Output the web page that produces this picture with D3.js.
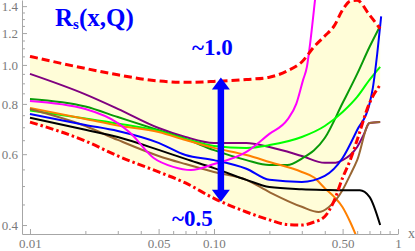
<!DOCTYPE html>
<html><head><meta charset="utf-8">
<script src="https://cdn.jsdelivr.net/npm/d3@7"></script>
<style>html,body{margin:0;padding:0;background:#fff;overflow:hidden}</style>
</head><body><svg id="c" width="415" height="251"></svg>
<script>
// ---- tick definitions ----
const xTickMajor = [0.01, 0.05, 0.1, 0.5, 1];
const xTickLabels = ["0.01", "0.05", "0.10", "0.50", "1"];
const xTickMinor = [0.02,0.03,0.04,0.06,0.07,0.08,0.09,0.2,0.3,0.4,0.6,0.7,0.8,0.9];
const yTickMajor = [0.4, 0.6, 0.8, 1.0, 1.2, 1.4];
const yTickLabels = ["0.4", "0.6", "0.8", "1.0", "1.2", "1.4"];
const yTickMinor = [0.45,0.5,0.55,0.65,0.7,0.75,0.85,0.9,0.95,1.05,1.1,1.15,1.25,1.3,1.35];

// ---- uncertainty band ----
const bandX = [0.01,0.02,0.03,0.05,0.07,0.1,0.15,0.2,0.25,0.3,0.35,0.4,0.45,0.5,0.55,0.6,0.7,0.8];
const bandUpper = [1.05,0.98,0.945,0.912,0.905,0.91,0.92,0.932,0.966,1.017,1.11,1.18,1.25,1.37,1.44,1.447,1.331,1.23];
const bandLower = [0.721,0.647,0.594,0.542,0.509,0.466,0.431,0.412,0.401,0.40,0.407,0.42,0.46,0.524,0.58,0.651,0.804,0.892];

// ---- curves: [x, R_s] ----
const purpleData = [[0.01,0.95],[0.02,0.845],[0.03,0.778],[0.05,0.697],[0.07,0.662],[0.1,0.64],[0.15,0.64],[0.2,0.625],[0.3,0.594],[0.4,0.571],[0.45,0.571],[0.5,0.58],[0.55,0.597],[0.6,0.625],[0.65,0.67],[0.7,0.717],[0.8,0.721]];
const darkGreenData = [[0.01,0.823],[0.02,0.788],[0.03,0.742],[0.05,0.688],[0.07,0.655],[0.1,0.614],[0.15,0.58],[0.2,0.564],[0.25,0.564],[0.3,0.585],[0.4,0.658],[0.5,0.804],[0.6,0.95],[0.7,1.108],[0.8,1.25]];
const limeData = [[0.01,0.77],[0.02,0.736],[0.03,0.715],[0.05,0.685],[0.07,0.655],[0.1,0.629],[0.15,0.622],[0.2,0.632],[0.3,0.662],[0.4,0.705],[0.5,0.764],[0.6,0.833],[0.7,0.918],[0.8,0.989]];
const orangeData = [[0.01,0.782],[0.02,0.734],[0.03,0.707],[0.05,0.681],[0.07,0.651],[0.1,0.622],[0.15,0.597],[0.2,0.574],[0.3,0.542],[0.35,0.525],[0.4,0.494],[0.45,0.47],[0.5,0.443],[0.55,0.407],[0.6,0.371]];
const magentaData = [[0.01,0.814],[0.02,0.777],[0.03,0.717],[0.035,0.678],[0.047,0.587],[0.06,0.558],[0.075,0.548],[0.1,0.567],[0.15,0.608],[0.2,0.674],[0.25,0.73],[0.28,0.80],[0.305,0.918],[0.32,0.99],[0.333,1.13],[0.354,1.45],[0.37,1.75]];
const blueData = [[0.01,0.755],[0.02,0.709],[0.03,0.685],[0.05,0.64],[0.07,0.597],[0.1,0.58],[0.15,0.552],[0.2,0.518],[0.3,0.512],[0.4,0.53],[0.5,0.587],[0.6,0.689],[0.7,0.8],[0.73,0.877],[0.77,1.06],[0.81,1.32]];
const blackData = [[0.01,0.739],[0.02,0.69],[0.03,0.662],[0.05,0.615],[0.07,0.584],[0.1,0.554],[0.15,0.518],[0.2,0.497],[0.3,0.491],[0.4,0.489],[0.5,0.488],[0.62,0.488],[0.7,0.47],[0.8,0.40]];
const brownData = [[0.01,0.777],[0.02,0.705],[0.03,0.651],[0.05,0.594],[0.07,0.567],[0.1,0.542],[0.15,0.518],[0.2,0.483],[0.3,0.444],[0.37,0.431],[0.42,0.443],[0.5,0.489],[0.55,0.533],[0.6,0.58],[0.7,0.717],[0.8,0.721]];

const series = [
  {data: purpleData, color: "#800080"},
  {data: darkGreenData, color: "#089a08"},
  {data: limeData, color: "#00ff00"},
  {data: orangeData, color: "#ff8000"},
  {data: brownData, color: "#996633"},
  {data: blackData, color: "#000000"},
  {data: blueData, color: "#0000ff"},
  {data: magentaData, color: "#ff00ff"}
];

// ---- annotations ----
const arrowX = 0.109, arrowTop = 0.93, arrowBottom = 0.457;
const titleMain = "R", titleSub = "s", titleRest = "(x,Q)";
const upperLabel = "~1.0", lowerLabel = "~0.5";

const svg = d3.select("#c");
const x = d3.scaleLog().domain([0.00905, 1]).range([22, 398]);
const y = d3.scaleLog().domain([0.38, 1.45]).range([234, 0]);

svg.append("defs").append("clipPath").attr("id","clip")
  .append("rect").attr("x",22).attr("y",0).attr("width",376).attr("height",234);

const axisColor = "#a6a6a6", labelColor = "#7a7a7a";
const font = "'Liberation Serif','Times New Roman',serif";

// axes
const gx = svg.append("g").attr("transform","translate(0,234)");
gx.call(d3.axisBottom(x).tickValues(xTickMajor).tickFormat((d,i)=>xTickLabels[i])
  .tickSizeInner(-5).tickSizeOuter(0).tickPadding(5));
const gxm = svg.append("g").attr("transform","translate(0,234)");
gxm.call(d3.axisBottom(x).tickValues(xTickMinor).tickFormat("").tickSizeInner(-3).tickSizeOuter(0));
gxm.select(".domain").remove();

const gy = svg.append("g").attr("transform","translate(22,0)");
gy.call(d3.axisLeft(y).tickValues(yTickMajor).tickFormat((d,i)=>yTickLabels[i])
  .tickSizeInner(-5).tickSizeOuter(0).tickPadding(4));
const gym = svg.append("g").attr("transform","translate(22,0)");
gym.call(d3.axisLeft(y).tickValues(yTickMinor).tickFormat("").tickSizeInner(-3).tickSizeOuter(0));
gym.select(".domain").remove();

svg.selectAll(".domain, .tick line").attr("stroke", axisColor).attr("stroke-width", 1);
svg.selectAll(".tick text").attr("fill", labelColor).style("font-family", font).style("font-size","13px");

svg.append("text").attr("x",408).attr("y",238).text("x")
  .attr("fill",labelColor).style("font-family",font).style("font-size","14px");

const plot = svg.append("g").attr("clip-path","url(#clip)");

// band fill
const bandPts = bandX.map((d,i)=>({x:d, lo:bandLower[i], hi:bandUpper[i]}));
plot.append("path").datum(bandPts)
  .attr("d", d3.area().x(d=>x(d.x)).y0(d=>y(d.lo)).y1(d=>y(d.hi)).curve(d3.curveMonotoneX))
  .attr("fill","#fffdd8");

// curves
const line = d3.line().x(d=>x(d[0])).y(d=>y(d[1])).curve(d3.curveMonotoneX);
series.forEach(s=>{
  plot.append("path").datum(s.data).attr("d", line)
    .attr("fill","none").attr("stroke", s.color).attr("stroke-width", 2)
    .attr("stroke-linejoin","round");
});

// band borders
const bl = d3.line().x(d=>x(d.x)).curve(d3.curveMonotoneX);
plot.append("path").datum(bandPts).attr("d", bl.y(d=>y(d.hi)))
  .attr("fill","none").attr("stroke","#ff0000").attr("stroke-width",3).attr("stroke-dasharray","8,4");
plot.append("path").datum(bandPts).attr("d", bl.y(d=>y(d.lo)))
  .attr("fill","none").attr("stroke","#ff0000").attr("stroke-width",3).attr("stroke-dasharray","8,3,2.5,3");

// arrow
const ax = x(arrowX), yt = y(arrowTop), yb = y(arrowBottom);
const arrowColor = "#0000ff";
svg.append("line").attr("x1",ax).attr("x2",ax).attr("y1",yt+10).attr("y2",yb-10)
  .attr("stroke",arrowColor).attr("stroke-width",6.5);
svg.append("path").attr("d",`M${ax},${yt}L${ax-9},${yt+12}L${ax+9},${yt+12}Z`).attr("fill",arrowColor);
svg.append("path").attr("d",`M${ax},${yb}L${ax-9},${yb-12}L${ax+9},${yb-12}Z`).attr("fill",arrowColor);

// texts
const t = svg.append("text").attr("x",55).attr("y",26).attr("fill",arrowColor)
  .style("font-family",font).style("font-weight","bold").style("font-size","25px");
t.append("tspan").text(titleMain);
t.append("tspan").attr("dy",3).style("font-size","15px").text(titleSub);
t.append("tspan").attr("dy",-3).text(titleRest);

svg.append("text").attr("x",192).attr("y",55).attr("fill",arrowColor)
  .style("font-family",font).style("font-weight","bold").style("font-size","23px").text(upperLabel);
svg.append("text").attr("x",172).attr("y",226).attr("fill",arrowColor)
  .style("font-family",font).style("font-weight","bold").style("font-size","23px").text(lowerLabel);
</script>
</body></html>
